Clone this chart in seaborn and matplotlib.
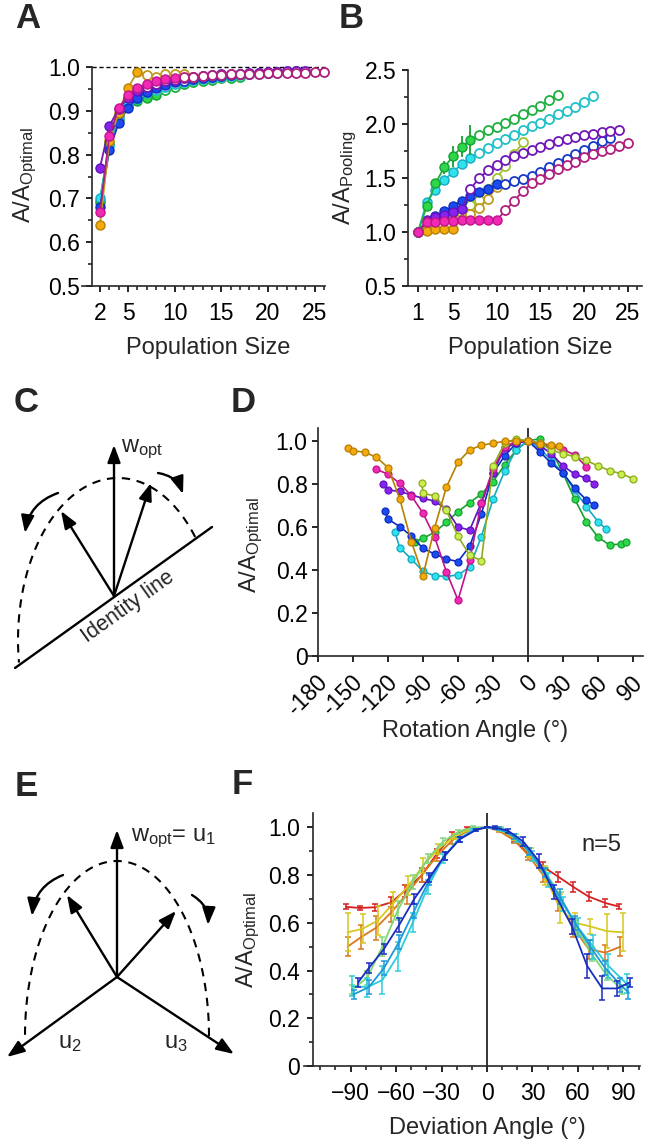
import numpy as np
import matplotlib
matplotlib.use('Agg')
import matplotlib.pyplot as plt
import matplotlib.transforms as mtrans
from matplotlib.ticker import FixedLocator, MultipleLocator, FormatStrFormatter, FuncFormatter
import seaborn as sns

# ---------------- data ----------------
names = ['ygreen', 'green', 'cyan', 'blue', 'orange', 'purple', 'magenta']

# Panel A (population size starts at 2)
a_ygreen = [0.69, 0.83, 0.89, 0.925, 0.945, 0.955, 0.963, 0.968, 0.972, 0.975, 0.977, 0.979]
a_green = [0.695, 0.825, 0.88, 0.912, 0.922, 0.93, 0.936, 0.948, 0.955, 0.961, 0.965, 0.968,
           0.971, 0.974, 0.976, 0.978]
a_cyan = [0.70, 0.82, 0.885, 0.915, 0.928, 0.94, 0.948, 0.955, 0.961, 0.966, 0.97, 0.973,
          0.976, 0.978, 0.98, 0.982, 0.983, 0.985, 0.986, 0.987]
a_blue = [0.68, 0.81, 0.872, 0.907, 0.93, 0.943, 0.952, 0.96, 0.965, 0.969, 0.972, 0.975,
          0.977, 0.979, 0.981, 0.983, 0.985, 0.986, 0.987, 0.988, 0.989, 0.99]
a_orange = [0.64, 0.83, 0.895, 0.953, 0.988, 0.982, 0.977, 0.983, 0.985, 0.985]
a_purple = [0.77, 0.865, 0.905, 0.93, 0.945, 0.955, 0.962, 0.967, 0.971, 0.974, 0.977, 0.979,
            0.981, 0.983, 0.984, 0.985, 0.986, 0.987, 0.988, 0.989, 0.99, 0.99, 0.991]
a_magenta = [0.668, 0.843, 0.907, 0.935, 0.953, 0.962, 0.968, 0.972, 0.976, 0.977, 0.978,
             0.98, 0.981, 0.982, 0.983, 0.984, 0.985, 0.985, 0.986, 0.986, 0.987, 0.987,
             0.987, 0.988, 0.988]
a_filled = {'ygreen': 4, 'green': 7, 'cyan': 6, 'blue': 9, 'orange': 5, 'purple': 5, 'magenta': 9}

# Panel B (population size starts at 1)
b_ygreen = [1.0, 1.06, 1.12, 1.14, 1.15, 1.18, 1.25, 1.30, 1.40, 1.50, 1.61, 1.72, 1.83]
b_green = [1.0, 1.24, 1.45, 1.60, 1.70, 1.79, 1.85, 1.895, 1.94, 1.975, 2.01, 2.05, 2.09,
           2.13, 2.17, 2.22, 2.265]
b_green_err = [0, 0.02, 0.04, 0.06, 0.10, 0.10, 0.14]
b_cyan = [1.0, 1.278, 1.39, 1.478, 1.558, 1.627, 1.688, 1.735, 1.78, 1.82, 1.86, 1.90, 1.94,
          1.98, 2.01, 2.05, 2.09, 2.12, 2.16, 2.20, 2.255]
b_blue = [1.0, 1.10, 1.15, 1.19, 1.24, 1.29, 1.33, 1.37, 1.40, 1.445, 1.445, 1.47, 1.49, 1.52,
          1.56, 1.60, 1.64, 1.68, 1.72, 1.76, 1.80, 1.84, 1.87]
b_orange = [1.0, 1.01, 1.025, 1.025, 1.025, 1.12, 1.17, 1.22, 1.31, 1.42]
b_purple = [1.0, 1.11, 1.14, 1.16, 1.185, 1.21, 1.40, 1.50, 1.57, 1.62, 1.665, 1.705, 1.735,
            1.76, 1.79, 1.815, 1.84, 1.865, 1.88, 1.90, 1.91, 1.925, 1.935, 1.945]
b_magenta = [1.0, 1.09, 1.09, 1.10, 1.10, 1.11, 1.11, 1.11, 1.11, 1.11, 1.20, 1.29, 1.38, 1.45,
             1.49, 1.54, 1.58, 1.62, 1.65, 1.69, 1.72, 1.75, 1.77, 1.80, 1.82]
b_filled = {'ygreen': 5, 'green': 7, 'cyan': 7, 'blue': 10, 'orange': 5, 'purple': 6, 'magenta': 10}

# Panel D (rotation angle)
d_x_orange = [-154, -150, -140, -130, -120, -110, -100, -90, -80, -70, -60, -50, -40, -30, -20, -10, 0, 10, 20, 27]
d_y_orange = [0.966, 0.955, 0.947, 0.924, 0.876, 0.732, 0.532, 0.374, 0.597, 0.784, 0.901, 0.958,
              0.98, 0.989, 0.998, 1.0, 1.0, 0.986, 0.983, 0.976]
d_x_magenta = [-130, -120, -110, -100, -90, -80, -70, -60, -50, -40, -30, -20, -10, 0, 10, 20, 30, 40, 50]
d_y_magenta = [0.868, 0.845, 0.803, 0.745, 0.664, 0.553, 0.392, 0.26, 0.446, 0.71, 0.87, 0.97,
               1.0, 1.0, 0.99, 0.975, 0.96, 0.935, 0.88]
d_x_purple = [-124, -120, -110, -100, -90, -80, -70, -60, -50, -40, -30, -20, -10, 0, 10, 20, 30, 40, 50, 57]
d_y_purple = [0.80, 0.772, 0.765, 0.749, 0.733, 0.72, 0.683, 0.60, 0.585, 0.713, 0.853, 0.966,
              0.99, 1.0, 0.98, 0.94, 0.884, 0.846, 0.826, 0.80]
d_x_blue = [-123, -120, -110, -100, -90, -80, -70, -60, -50, -40, -30, -20, -10, 0, 10, 20, 30, 40, 50, 57]
d_y_blue = [0.676, 0.636, 0.602, 0.558, 0.50, 0.474, 0.451, 0.439, 0.51, 0.66, 0.85, 0.93,
            0.99, 1.0, 0.95, 0.896, 0.85, 0.78, 0.726, 0.70]
d_x_cyan = [-114, -110, -100, -90, -80, -70, -60, -50, -40, -30, -20, -10, 0, 10, 20, 30, 40, 50, 60, 67]
d_y_cyan = [0.575, 0.504, 0.451, 0.393, 0.373, 0.37, 0.377, 0.413, 0.555, 0.729, 0.86, 0.96,
            1.0, 0.965, 0.91, 0.85, 0.77, 0.695, 0.625, 0.59]
d_x_green = [-97, -90, -80, -70, -60, -50, -40, -30, -20, -10, 0, 10, 20, 30, 40, 50, 60, 70, 80, 84]
d_y_green = [0.532, 0.547, 0.575, 0.622, 0.671, 0.713, 0.753, 0.81, 0.889, 0.958, 1.0, 1.01,
             0.958, 0.85, 0.73, 0.625, 0.552, 0.516, 0.521, 0.53]
d_x_ygreen = [-91, -90, -80, -70, -60, -50, -40, -30, -20, -10, 0, 10, 20, 30, 40, 50, 60, 70, 80, 90]
d_y_ygreen = [0.803, 0.756, 0.745, 0.678, 0.556, 0.469, 0.443, 0.883, 0.99, 1.01, 1.0, 0.99,
              0.958, 0.94, 0.927, 0.909, 0.884, 0.862, 0.847, 0.825]

# Panel F (deviation angle), mean and error
f_x_red = [-93, -84, -74, -63, -54, -43, -33, -23, -13, 0, 8, 18, 27, 37, 47, 57, 67, 78, 87]
f_y_red = [0.667, 0.662, 0.665, 0.686, 0.735, 0.80, 0.89, 0.965, 0.995, 1.0, 0.99, 0.948, 0.89,
           0.835, 0.793, 0.75, 0.71, 0.683, 0.668]
f_e_red = [0.01, 0.01, 0.015, 0.02, 0.025, 0.03, 0.02, 0.015, 0.005, 0, 0.005, 0.01, 0.015,
           0.02, 0.02, 0.02, 0.02, 0.015, 0.01]
f_x_orange = [-92, -83, -73, -63, -53, -43, -33, -23, -13, 0, 8, 18, 27, 37, 47, 57, 67, 78, 88]
f_y_orange = [0.50, 0.54, 0.58, 0.645, 0.72, 0.80, 0.88, 0.945, 0.985, 1.0, 0.985, 0.945, 0.885,
              0.80, 0.69, 0.58, 0.49, 0.475, 0.50]
f_e_orange = [0.04, 0.05, 0.05, 0.04, 0.04, 0.03, 0.02, 0.015, 0.005, 0, 0.005, 0.01, 0.02,
              0.03, 0.04, 0.04, 0.04, 0.03, 0.04]
f_x_yellow = [-92, -82, -72, -62, -52, -42, -32, -22, -12, 0, 8, 18, 28, 38, 48, 58, 68, 79, 90]
f_y_yellow = [0.56, 0.575, 0.61, 0.68, 0.755, 0.84, 0.91, 0.96, 0.99, 1.0, 0.99, 0.955, 0.895,
              0.80, 0.66, 0.60, 0.585, 0.565, 0.56]
f_e_yellow = [0.08, 0.06, 0.06, 0.05, 0.04, 0.03, 0.02, 0.01, 0.005, 0, 0.005, 0.01, 0.02,
              0.04, 0.06, 0.04, 0.03, 0.07, 0.08]
f_x_green = [-89, -79, -69, -59, -49, -39, -29, -19, -9, 0, 9, 19, 29, 39, 49, 59, 69, 79, 89]
f_y_green = [0.32, 0.37, 0.50, 0.65, 0.77, 0.87, 0.94, 0.98, 1.0, 1.0, 0.995, 0.96, 0.90, 0.81,
             0.70, 0.58, 0.47, 0.38, 0.32]
f_e_green = [0.02, 0.03, 0.04, 0.04, 0.03, 0.02, 0.015, 0.01, 0.005, 0, 0.005, 0.01, 0.015,
             0.02, 0.03, 0.03, 0.03, 0.02, 0.02]
f_x_cyan = [-89, -79, -69, -59, -49, -39, -29, -19, -9, 0, 10, 20, 30, 40, 50, 60, 70, 80, 92]
f_y_cyan = [0.335, 0.33, 0.36, 0.46, 0.60, 0.75, 0.87, 0.95, 0.99, 1.0, 0.99, 0.95, 0.88, 0.78,
            0.68, 0.58, 0.50, 0.42, 0.345]
f_e_cyan = [0.04, 0.04, 0.06, 0.06, 0.04, 0.03, 0.02, 0.01, 0.005, 0, 0.005, 0.01, 0.02, 0.03,
            0.03, 0.04, 0.05, 0.05, 0.04]
f_x_sky = [-88, -78, -68, -58, -48, -38, -28, -18, -8, 0, 8, 18, 28, 38, 48, 58, 68, 78, 88, 93]
f_y_sky = [0.30, 0.33, 0.41, 0.52, 0.65, 0.78, 0.88, 0.95, 0.99, 1.0, 0.995, 0.96, 0.90, 0.81,
           0.71, 0.60, 0.50, 0.41, 0.34, 0.31]
f_e_sky = [0.02, 0.03, 0.03, 0.03, 0.03, 0.02, 0.015, 0.01, 0.005, 0, 0.005, 0.01, 0.015, 0.02,
           0.03, 0.03, 0.03, 0.03, 0.03, 0.03]
f_x_blue = [-85, -78, -68, -58, -48, -38, -28, -18, -7, 0, 5, 14, 24, 34, 44, 56, 66, 76, 86, 94]
f_y_blue = [0.35, 0.41, 0.49, 0.59, 0.70, 0.79, 0.88, 0.95, 0.99, 1.0, 1.0, 0.985, 0.94, 0.86,
            0.73, 0.585, 0.42, 0.325, 0.325, 0.35]
f_e_blue = [0.02, 0.02, 0.02, 0.03, 0.02, 0.02, 0.015, 0.01, 0.005, 0, 0.005, 0.01, 0.02, 0.03,
            0.03, 0.03, 0.05, 0.05, 0.03, 0.02]

# colours
face = {'ygreen': '#c8ee50', 'green': '#2cd84a', 'cyan': '#30e2ee', 'blue': '#1a4cf0',
        'orange': '#f2aa0c', 'purple': '#8a22ee', 'magenta': '#f02ab4'}
edge = {'ygreen': '#8fac1c', 'green': '#16a030', 'cyan': '#14aac2', 'blue': '#0c2cc0',
        'orange': '#b88000', 'purple': '#6012c0', 'magenta': '#c0148c'}
open_edge = {'ygreen': '#a2c232', 'green': '#20b040', 'cyan': '#22c0c8', 'blue': '#1838c8',
             'orange': '#c09a20', 'purple': '#7018b8', 'magenta': '#b0207e'}
f_colors = ['#d42020', '#d8781c', '#d6c81e', '#7ed678', '#2ccbd8', '#1c98d8', '#1a2cc0']

# ---------------- style ----------------
sns.set_style('ticks')
plt.rcParams['font.family'] = ['Liberation Sans', 'DejaVu Sans']
plt.rcParams['mathtext.default'] = 'regular'

TICK = 16.5
LABEL = 17

W, H = 650, 1147
fig = plt.figure(figsize=(6.5, 11.47), dpi=100)


def rect(l, t, r, b):
    return [l / W, 1 - b / H, (r - l) / W, (b - t) / H]


def fx(px):
    return px / W


def fy(py):
    return 1 - py / H


def style(ax, xpad=8, ypad=5):
    sns.despine(ax=ax)
    for s in ['left', 'bottom']:
        ax.spines[s].set_linewidth(1.2)
    ax.tick_params(which='major', length=4.5, width=1.2, labelsize=TICK, colors='k')
    ax.tick_params(which='minor', length=3, width=1.2)
    ax.tick_params(axis='x', which='major', pad=xpad)
    ax.tick_params(axis='y', which='major', pad=ypad)
    ax.patch.set_alpha(0)


def dot_series(ax, x, y, n_filled, c, ms):
    x = np.asarray(x, float)
    y = np.asarray(y, float)
    sns.lineplot(x=x, y=y, ax=ax, color=open_edge[c], lw=1.3, estimator=None, sort=False,
                 clip_on=False)
    ax.plot(x[:n_filled], y[:n_filled], 'o', ms=ms, mfc=face[c], mec=edge[c], mew=1.0,
            clip_on=False)
    ax.plot(x[n_filled:], y[n_filled:], 'o', ms=ms, mfc='white', mec=open_edge[c], mew=1.3,
            clip_on=False)


def zero_fmt(v, p):
    return '0' if abs(v) < 1e-9 else f'{v:.1f}'


# ---------------- Panel A ----------------
axA = fig.add_axes(rect(82, 67, 325, 286))
style(axA, xpad=7, ypad=4)
axA.set_xlim(0.075, 26.1)
axA.set_ylim(0.5, 1.0)
axA.spines['left'].set_position(('data', 1.15))
axA.plot([1.15, 26.1], [1, 1], ls=(0, (3, 2)), color='k', lw=1, clip_on=False)
a_data = {'ygreen': a_ygreen, 'green': a_green, 'cyan': a_cyan, 'blue': a_blue,
          'orange': a_orange, 'purple': a_purple, 'magenta': a_magenta}
for n in names:
    y = a_data[n]
    dot_series(axA, np.arange(2, 2 + len(y)), y, a_filled[n], n, 6.5)
axA.xaxis.set_major_locator(FixedLocator([2, 5, 10, 15, 20, 25]))
axA.xaxis.set_minor_locator(FixedLocator(range(2, 27)))
axA.yaxis.set_major_locator(MultipleLocator(0.1))
axA.yaxis.set_minor_locator(MultipleLocator(0.05))
axA.yaxis.set_major_formatter(FormatStrFormatter('%.1f'))
axA.set_xlabel('')
axA.set_ylabel('')

# ---------------- Panel B ----------------
axB = fig.add_axes(rect(408, 70, 642, 286))
style(axB, xpad=7, ypad=4)
axB.set_xlim(-0.14, 26.6)
axB.set_ylim(0.5, 2.5)
b_data = {'ygreen': b_ygreen, 'green': b_green, 'cyan': b_cyan, 'blue': b_blue,
          'orange': b_orange, 'purple': b_purple, 'magenta': b_magenta}
for n in ['ygreen', 'orange', 'blue', 'purple', 'cyan', 'green', 'magenta']:
    y = b_data[n]
    xs = np.arange(1, 1 + len(y))
    if n == 'green':
        axB.errorbar(xs[:len(b_green_err)], y[:len(b_green_err)], yerr=b_green_err, fmt='none',
                     ecolor=edge['green'], elinewidth=1.3, capsize=0)
    dot_series(axB, xs, y, b_filled[n], n, 6.5)
axB.xaxis.set_major_locator(FixedLocator([1, 5, 10, 15, 20, 25]))
axB.xaxis.set_minor_locator(FixedLocator(range(1, 27)))
axB.yaxis.set_major_locator(MultipleLocator(0.5))
axB.yaxis.set_minor_locator(MultipleLocator(0.25))
axB.yaxis.set_major_formatter(FormatStrFormatter('%.1f'))
axB.set_xlabel('')
axB.set_ylabel('')

# ---------------- Panel D ----------------
axD = fig.add_axes(rect(308, 428, 643, 656))
style(axD, xpad=12, ypad=3)
axD.set_xlim(-188.6, 98.6)
axD.set_ylim(0, 1.06)
axD.spines['left'].set_position(('data', -180))
axD.axvline(0, color='k', lw=1.1)
d_series = [('green', d_x_green, d_y_green), ('cyan', d_x_cyan, d_y_cyan),
            ('blue', d_x_blue, d_y_blue), ('purple', d_x_purple, d_y_purple),
            ('magenta', d_x_magenta, d_y_magenta), ('ygreen', d_x_ygreen, d_y_ygreen),
            ('orange', d_x_orange, d_y_orange)]
for n, x, y in d_series:
    sns.lineplot(x=x, y=y, ax=axD, color=edge[n], lw=1.2, estimator=None, sort=False)
    axD.plot(x, y, 'o', ms=5, mfc=face[n], mec=edge[n], mew=0.9, clip_on=False)
d_xticks = list(range(-180, 91, 30))
axD.set_xticks(d_xticks)
axD.set_xticklabels([str(t) for t in d_xticks], rotation=45, ha='right', va='center',
                    rotation_mode='anchor')
shift = mtrans.ScaledTranslation(6 / 100, 0, fig.dpi_scale_trans)
for lbl in axD.get_xticklabels():
    lbl.set_transform(lbl.get_transform() + shift)
axD.yaxis.set_major_locator(MultipleLocator(0.2))
axD.yaxis.set_major_formatter(FuncFormatter(zero_fmt))
axD.set_xlabel('')
axD.set_ylabel('')

# ---------------- Panel F ----------------
axF = fig.add_axes(rect(304, 813, 640, 1066))
style(axF, xpad=7, ypad=5)
axF.set_xlim(-120.7, 100.9)
axF.set_ylim(0, 1.06)
axF.spines['left'].set_position(('data', -114.7))
axF.axvline(0, color='k', lw=1.1)
f_series = [(f_x_red, f_y_red, f_e_red), (f_x_orange, f_y_orange, f_e_orange),
            (f_x_yellow, f_y_yellow, f_e_yellow), (f_x_green, f_y_green, f_e_green),
            (f_x_cyan, f_y_cyan, f_e_cyan), (f_x_sky, f_y_sky, f_e_sky),
            (f_x_blue, f_y_blue, f_e_blue)]
for c, (x, y, e) in zip(f_colors, f_series):
    axF.errorbar(x, y, yerr=e, fmt='none', ecolor=c, elinewidth=1.1, capsize=2.2, capthick=1.1)
    sns.lineplot(x=x, y=y, ax=axF, color=c, lw=1.3, estimator=None, sort=False)
axF.xaxis.set_major_locator(FixedLocator(list(range(-90, 91, 30))))
axF.xaxis.set_minor_locator(FixedLocator(list(range(-110, 101, 10))))
axF.yaxis.set_major_locator(MultipleLocator(0.2))
axF.yaxis.set_minor_locator(MultipleLocator(0.1))
axF.yaxis.set_major_formatter(FuncFormatter(zero_fmt))
axF.set_xlabel('')
axF.set_ylabel('')

# ---------------- labels ----------------
lab = dict(fontsize=LABEL, ha='center', va='center')
fig.text(fx(25), fy(175), 'A/A$_{Optimal}$', rotation=90, **lab)
fig.text(fx(345), fy(178), 'A/A$_{Pooling}$', rotation=90, **lab)
fig.text(fx(251), fy(545), 'A/A$_{Optimal}$', rotation=90, **lab)
fig.text(fx(248), fy(940), 'A/A$_{Optimal}$', rotation=90, **lab)
fig.text(fx(208), fy(348), 'Population Size', **lab)
fig.text(fx(530), fy(348), 'Population Size', **lab)
fig.text(fx(475), fy(731), 'Rotation Angle (°)', **lab)
fig.text(fx(487), fy(1128), 'Deviation Angle (°)', **lab)
fig.text(fx(601), fy(845), 'n=5', **lab)
for letter, (px, py) in zip('ABCDEF', [(28, 19), (351, 19), (26, 403), (243, 403), (26, 786), (242, 784)]):
    fig.text(fx(px), fy(py), letter, fontsize=25, fontweight='bold', ha='center', va='center')

# ---------------- schematic diagrams (C and E), pixel coordinates ----------------
c_origin = (114, 596)
c_tips = [(114, 445), (61, 511), (151, 483)]
c_identity = [(15, 668), (212, 527)]
c_arc = dict(cx=118, cy=640, a=100, b=162, t0=39.5, t1=188)
c_turns = [((58, 493), (25, 533), 0.3), ((158, 473), (183, 494), -0.3)]
e_origin = (117, 977)
e_tips = [(117, 830), (67, 895), (176, 911), (7, 1057), (234, 1054)]
e_arc = dict(cx=117, cy=1036, a=92, b=175, t0=0, t1=180)
e_turns = [((63, 875), (32, 916), 0.3), ((192, 895), (208, 925), -0.3)]

axd = fig.add_axes([0, 0, 1, 1], zorder=-1)
axd.set_xlim(0, W)
axd.set_ylim(H, 0)
axd.axis('off')


def arrow(p0, p1, rad=0.0):
    axd.annotate('', xy=p1, xytext=p0,
                 arrowprops=dict(arrowstyle='-|>,head_length=0.75,head_width=0.28', color='k',
                                 lw=1.7, shrinkA=0, shrinkB=0, mutation_scale=14,
                                 connectionstyle=f'arc3,rad={rad}'))


def dashed_arc(p):
    t = np.radians(np.linspace(p['t0'], p['t1'], 200))
    axd.plot(p['cx'] + p['a'] * np.cos(t), p['cy'] - p['b'] * np.sin(t), color='k', lw=1.5,
             ls=(0, (4, 3.2)))


dashed_arc(c_arc)
axd.plot([c_identity[0][0], c_identity[1][0]], [c_identity[0][1], c_identity[1][1]], color='k', lw=1.7)
for tip in c_tips:
    arrow(c_origin, tip)
for p0, p1, r in c_turns:
    arrow(p0, p1, r)
axd.text(121, 449, 'w$_{opt}$', fontsize=17, ha='left', va='center')
axd.text(128, 607, 'Identity line', fontsize=15.5, ha='center', va='center', rotation=35.6)

dashed_arc(e_arc)
for tip in e_tips:
    arrow(e_origin, tip)
for p0, p1, r in e_turns:
    arrow(p0, p1, r)
axd.text(131, 838, 'w$_{opt}$= u$_{1}$', fontsize=17, ha='left', va='center')
axd.text(70, 1043, 'u$_{2}$', fontsize=17, ha='center', va='center')
axd.text(176, 1043, 'u$_{3}$', fontsize=17, ha='center', va='center')

fig.savefig('out.png', dpi=100)
